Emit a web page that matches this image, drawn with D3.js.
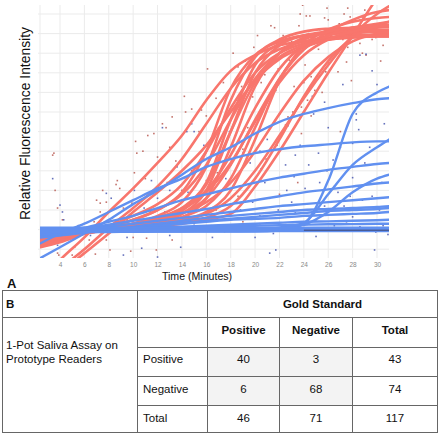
<!DOCTYPE html>
<html><head><meta charset="utf-8">
<script src="https://cdn.jsdelivr.net/npm/d3@7"></script>
<style>
body{margin:0;background:#fff}
svg{display:block}
text{font-family:"Liberation Sans",Arial,Helvetica,sans-serif}
</style>
</head><body>
<svg id="c" width="440" height="433"></svg>
<script>
// ---------------- DATA ----------------
const times = [2.4, 4, 6, 8, 10, 12, 14, 16, 18, 20, 22, 24, 26, 28, 30, 31];
const xTicks = [4, 6, 8, 10, 12, 14, 16, 18, 20, 22, 24, 26, 28, 30];
const yGrid = [0, 1, 2, 3, 4, 5, 6, 7, 8, 9, 10, 11, 12];

// positive samples (red) — fitted curves, values at `times`
const redCurves = [
  [-1.6,-0.55, 0.6, 1.9, 3.1, 4.4, 5.8, 7.6, 9.1, 9.9,10.4,10.6,10.7,10.8,10.85,10.85],
  [-1.8,-1.0, 0.0, 1.1, 2.1, 3.2, 4.6, 6.4, 8.2, 9.5,10.2,10.6,10.8,10.9,10.95,11.0],
  [-1.9,-1.2,-0.2, 0.8, 1.9, 2.9, 4.0, 5.3, 7.0, 8.6, 9.7,10.3,10.7,11.0,11.15,11.2],
  [0.3, 0.5, 0.8, 1.1, 1.5, 2.0, 2.9, 5.0, 8.2, 9.9,10.6,10.9,11.0,11.05,11.1,11.1],
  [0.4, 0.55,0.8, 1.0, 1.3, 1.7, 2.4, 4.2, 7.6, 9.8,10.7,11.1,11.25,11.3,11.35,11.35],
  [0.2, 0.45,0.85,1.1, 1.3, 1.6, 2.1, 3.4, 6.6, 9.4,10.5,10.9,11.0,11.05,11.1,11.1],
  [0.5, 0.65,0.85,1.0, 1.15,1.35,1.8, 3.0, 6.0, 9.0,10.4,10.9,11.1,11.2,11.2,11.2],
  [0.6, 0.7, 0.88,1.0, 1.1, 1.3, 1.6, 2.6, 5.2, 8.3,10.0,10.8,11.1,11.3,11.4,11.4],
  [0.35,0.5, 0.8, 1.05,1.3, 1.6, 2.1, 3.0, 4.8, 7.2, 9.2,10.4,10.9,11.15,11.3,11.35],
  [0.45,0.6, 0.85,1.0, 1.15,1.35,1.65,2.2, 3.6, 6.2, 8.7,10.2,10.9,11.3,11.5,11.6],
  [0.5, 0.65,0.87,1.0, 1.1, 1.25,1.5, 1.9, 3.0, 5.6, 8.6,10.4,11.2,11.6,11.8,11.85],
  [0.55,0.7, 0.88,1.0, 1.1, 1.2, 1.35,1.6, 2.2, 3.6, 5.6, 7.8, 9.6,10.8,11.4,11.6],
  [0.3, 0.5, 0.85,1.1, 1.3, 1.55,1.85,2.4, 3.4, 5.0, 6.9, 8.6, 9.8,10.6,11.0,11.1],
  [0.6, 0.7, 0.85,0.95,1.05,1.15,1.3, 1.5, 1.8, 3.2, 5.0, 7.0, 9.0,10.9,12.8,13.6],
  [0.5, 0.6, 0.8, 0.95,1.1, 1.25,1.45,1.8, 2.6, 4.0, 5.8, 7.7, 9.4,10.9,12.0,12.4],
  [0.4, 0.55,0.8, 1.0, 1.2, 1.45,1.8, 2.6, 4.3, 6.6, 8.7,10.2,11.1,11.7,12.1,12.2],
  [0.2, 0.4, 0.8, 1.15,1.5, 2.0, 2.8, 4.3, 6.6, 8.7,10.0,10.7,11.1,11.3,11.4,11.45],
  [0.1, 0.35,0.8, 1.2, 1.7, 2.3, 3.3, 5.0, 7.2, 9.0,10.0,10.5,10.7,10.8,10.85,10.85],
  [0.55,0.7, 0.9, 1.05,1.2, 1.45,1.95,3.3, 6.0, 8.5, 9.8,10.4,10.7,10.85,10.9,10.95],
  [0.45,0.6, 0.85,1.05,1.25,1.5, 2.0, 2.9, 4.4, 6.5, 8.5, 9.9,10.7,11.1,11.35,11.4]
];

// negative samples (blue)
const blueCurves = [
  [0.9, 0.9, 0.9, 0.9, 0.9, 0.9, 0.9, 0.9, 0.9, 0.9, 0.95,1.3, 3.5, 6.9, 8.0, 8.3],
  [0.95,0.95,0.95,0.95,0.95,0.95,0.95,0.95,0.95,1.0, 1.1, 1.35,2.8, 4.3, 5.2, 5.6],
  [-0.45,0.1,0.8, 1.5, 2.3, 3.0, 3.8, 4.6, 5.2, 5.9, 6.5, 6.9, 7.2, 7.45,7.65,7.7],
  [0.3, 0.8, 1.3, 1.9, 2.5, 3.1, 3.6, 4.2, 4.6, 4.9, 5.1, 5.25,5.35,5.45,5.5, 5.5],
  [0.8, 0.9, 1.1, 1.4, 1.7, 2.1, 2.5, 2.8, 3.1, 3.4, 3.65,3.85,4.05,4.2, 4.35,4.4],
  [0.85,0.9, 1.05,1.25,1.45,1.65,1.85,2.05,2.3, 2.5, 2.7, 2.9, 3.05,3.2, 3.35,3.4],
  [0.85,0.9, 1.0, 1.15,1.3, 1.45,1.6, 1.75,1.9, 2.05,2.2, 2.3, 2.4, 2.5, 2.6, 2.65],
  [0.95,0.95,0.95,0.95,0.95,0.95,0.95,0.96,0.97,1.0, 1.05,1.25,1.9, 2.9, 3.6, 3.8],
  [0.6, 0.7, 0.85,1.0, 1.15,1.3, 1.45,1.6, 1.7, 1.8, 1.9, 2.0, 2.05,2.1, 2.15,2.2],
  [0.7, 0.75,0.85,0.95,1.1, 1.2, 1.35,1.45,1.55,1.65,1.75,1.85,1.95,2.0, 2.05,2.1],
  [0.75,0.8, 0.9, 1.0, 1.1, 1.2, 1.3, 1.4, 1.5, 1.55,1.6, 1.7, 1.75,1.8, 1.85,1.9],
  [0.9, 0.92,0.95,1.0, 1.05,1.1, 1.15,1.2, 1.25,1.3, 1.35,1.4, 1.42,1.45,1.48,1.5],
  [1.0, 1.0, 1.02,1.05,1.08,1.1, 1.12,1.15,1.18,1.2, 1.22,1.25,1.27,1.28,1.3, 1.3],
  [1.05,1.05,1.05,1.05,1.06,1.06,1.07,1.07,1.08,1.08,1.09,1.09,1.1, 1.1, 1.1, 1.1],
  [1.1, 1.1, 1.1, 1.1, 1.1, 1.1, 1.1, 1.09,1.09,1.08,1.08,1.08,1.07,1.07,1.07,1.07],
  [1.0, 1.0, 1.0, 1.0, 1.0, 0.99,0.99,0.99,0.99,0.98,0.98,0.98,0.98,0.98,0.98,0.98],
  [0.85,0.86,0.87,0.88,0.89,0.9, 0.9, 0.91,0.91,0.92,0.92,0.93,0.93,0.93,0.93,0.93]
];

const controlTimes = [24, 31];
const controlValues = [0.97, 0.97];

const redPoints = [
  [16.1,9.2],[14.2,7.8],[14.3,7.0],[14.8,7.15],[13.2,6.75],[15.0,6.7],[12.4,6.4],[12.7,6.2],[11.2,5.8],[11.7,5.9],[15.6,7.1],[16.8,7.7],[16.0,6.8],[15.4,6.0],
  [23.9,12.45],[25.9,12.3],[27.6,12.3],[23.7,12.0],[24.2,11.9],[24.5,11.9],[21.3,11.4],[21.6,11.3],[20.2,10.9],[18.2,10.0],[17.4,8.5],[24.4,11.0],[23.6,11.4],[25.7,11.8],[26.0,11.7],[27.8,11.85],[28.6,11.7],[28.8,11.85],[29.6,11.44],[29.9,10.8],[30.2,11.8],[28.8,10.0],[28.6,10.5],[29.1,9.9],[27.5,9.55],[26.8,9.05],[25.8,9.05],[26.0,9.5],[24.6,8.8],[24.0,8.5],[23.2,8.3],[24.9,8.1],[24.3,7.6],[23.8,7.25],[23.1,7.0],[22.7,6.75],[22.5,6.34],[21.2,7.5],[21.3,7.95],[20.5,8.5],[19.8,7.77],[20.2,6.6],[19.4,6.2],[18.9,8.3],[18.4,7.1],[17.8,5.7],[20.8,8.9],[21.1,9.3],[21.9,9.2],[22.4,9.9],[22.8,9.65],[24.8,10.9],[25.3,11.2],[25.7,10.7],[26.1,11.1],[27.2,10.7],[27.6,10.3],[28.0,11.1],[29.2,11.1],[29.6,10.7],
  [3.4,4.8],[3.5,4.9],[3.6,3.0],[3.8,2.1],[4.2,1.5],[3.9,-0.3],[10.2,5.5],[10.3,4.9],[10.8,5.0],[10.1,3.9],[8.7,3.5],[8.6,3.3],[8.9,3.1],[9.9,2.35],[7.8,2.4],[7.3,2.35],[7.0,2.5],[7.3,1.9],[7.5,3.0],[12.8,3.4],[11.6,2.15],[11.4,1.9],[10.0,0.6],[7.8,0.47],[8.1,-0.04],[6.4,0.47],[5.0,-0.3],[3.8,-0.2],[5.2,0.1],[11.1,0.56],[13.2,0.47],[11.9,-0.04],[12.9,1.1],[15.1,1.6],[16.4,1.2],[17.5,0.9],[19.0,1.4],[20.4,1.3],[22.0,2.8],[23.5,3.4],[25.0,1.5],[26.5,3.2],[27.0,6.0],[13.8,2.3],[14.8,4.0],[16.0,3.5],[17.3,5.0],
  [13.5,4.5],[14.0,3.0],[15.5,2.2],[9.5,1.5],[6.8,1.4],[8.5,0.9],[12.2,1.5],
  [17.0,6.2],[18.6,9.3],[19.2,9.6],[19.9,10.3],[22.3,10.9],[23.0,10.6],[26.9,11.5],[27.3,12.0],[29.0,12.2],[30.5,10.4],[30.3,9.6],[25.2,10.2],[24.1,9.4],[21.7,8.1],[19.0,5.1],[18.0,4.3],[16.9,3.9],[15.8,4.6],[13.0,5.2],[12.0,4.7],[11.0,3.6],[9.2,2.1],[8.3,1.6],[6.2,1.1],[14.5,1.1],[16.8,2.0],[18.6,2.7],[20.9,4.6],[21.8,5.3],[23.8,5.9],[24.6,6.8],[25.5,8.0],[27.9,8.6],[6.9,-0.25],[9.8,-0.1]
];

const bluePoints = [
  [3.4,3.6],[4.0,2.25],[4.2,1.9],[4.3,1.5],[5.5,1.2],[3.8,0.2],[5.8,-0.1],[7.8,2.85],[8.2,2.6],[9.2,-0.3],[10.7,0.05],[12.0,-0.4],[13.9,0.1],[10.9,2.1],[12.0,2.6],[13.0,3.0],[10.1,3.0],[11.5,3.5],[12.4,6.2],[14.8,6.4],[14.4,6.0],[15.0,6.0],[28.6,9.9],[29.1,9.95],[29.6,9.1],[27.2,8.4],[25.7,7.5],[24.7,7.8],[24.8,6.9],[28.3,6.9],[28.3,6.6],[28.5,6.1],[30.0,8.4],[22.7,6.3],[18.5,7.6],[17.9,6.0],
  [23.7,5.3],[23.3,4.8],[25.2,4.9],[24.4,4.3],[26.4,4.55],[28.0,5.4],[29.4,5.2],[25.9,4.0],[22.5,4.3],[23.2,3.7],[20.8,3.4],[20.5,4.1],[20.4,5.0],[19.0,4.9],[19.6,4.4],[17.6,3.6],[18.1,3.1],[21.2,2.6],[22.6,3.0],[24.1,3.1],[26.8,2.9],[28.0,3.65],[28.8,2.5],[29.6,2.7],[30.4,3.4],[27.3,2.2],[25.7,2.2],[24.3,1.7],[23.3,1.85],[21.9,2.0],[20.4,1.7],[18.8,2.0],[17.95,1.7],[19.6,1.0],[21.5,0.8],[24.0,1.1],[26.5,1.2],[28.6,1.14],[29.9,0.88],[21.2,-0.2],[21.7,-0.04],[29.8,-0.04],[26.15,2.0],[28.0,1.65],
  [6.5,0.7],[8.0,1.2],[9.5,0.6],[11.0,1.3],[13.0,0.7],[15.0,1.3],[16.5,0.6],[18.0,1.1],[20.0,0.6],[22.5,1.25],[25.0,0.65],[27.5,1.4],[30.5,1.2],[30.9,0.75],
  [16.0,2.4],[14.5,2.9],[13.6,4.2],[15.8,5.3],[17.0,4.6],[19.2,3.4],[21.0,5.6],[22.0,6.9],[26.0,6.2],[27.0,5.2],[29.0,4.4],[30.6,6.4],[23.0,2.4],[25.3,3.4],[27.8,2.7],[30.2,2.0],[19.8,2.4],[16.2,1.6],[12.6,1.9],[9.8,1.7]
];

// table B
const tableTitle = "B";
const goldLabel = "Gold Standard";
const assayLabel = ["1-Pot Saliva Assay on", "Prototype Readers"];
const colHeaders = ["Positive", "Negative", "Total"];
const rowLabels = ["Positive", "Negative", "Total"];
const goldPositive = [40, 6, 46];
const goldNegative = [3, 68, 71];
const rowTotals = [43, 74, 117];

// ---------------- CHART ----------------
const svg = d3.select("#c");
const P = {l: 40, r: 389, t: 5, b: 258};
const x = d3.scaleLinear().domain([4, 30]).range([60, 377]);
const y = d3.scaleLinear().domain([0, 12]).range([249.2, 14]);

svg.append("defs").append("clipPath").attr("id", "clip")
  .append("rect").attr("x", P.l).attr("y", P.t).attr("width", P.r - P.l).attr("height", P.b - P.t);

const grid = svg.append("g");
grid.selectAll("line.h").data(yGrid).join("line")
  .attr("x1", P.l - 2).attr("x2", P.r).attr("y1", d => y(d)).attr("y2", d => y(d))
  .attr("stroke", "#ebebeb").attr("stroke-width", 1);
grid.selectAll("line.v").data(xTicks).join("line")
  .attr("y1", P.t).attr("y2", P.b).attr("x1", d => x(d)).attr("x2", d => x(d))
  .attr("stroke", "#ebebeb").attr("stroke-width", 1);
grid.append("line").attr("x1", P.l).attr("x2", P.l).attr("y1", P.t).attr("y2", P.b)
  .attr("stroke", "#ebebeb").attr("stroke-width", 1);

const plot = svg.append("g").attr("clip-path", "url(#clip)");

plot.append("g").selectAll("rect").data(redPoints).join("rect")
  .attr("x", d => x(d[0]) - 0.8).attr("y", d => y(d[1]) - 0.8)
  .attr("width", 1.6).attr("height", 1.6).attr("fill", "#b85a52").attr("opacity", 0.85);
plot.append("g").selectAll("rect").data(bluePoints).join("rect")
  .attr("x", d => x(d[0]) - 0.8).attr("y", d => y(d[1]) - 0.8)
  .attr("width", 1.6).attr("height", 1.6).attr("fill", "#4a58b0").attr("opacity", 0.85);

const line = d3.line().x(d => x(d[0])).y(d => y(d[1])).curve(d3.curveMonotoneX);
const toPts = vals => vals.map((v, i) => [times[i], v]);

plot.append("g").selectAll("path").data(redCurves).join("path")
  .attr("d", d => line(toPts(d))).attr("fill", "none")
  .attr("stroke", "#F8766D").attr("stroke-width", 2.6).attr("stroke-linecap", "round");
plot.append("g").selectAll("path").data(blueCurves).join("path")
  .attr("d", d => line(toPts(d))).attr("fill", "none")
  .attr("stroke", "#6190F0").attr("stroke-width", 2.4).attr("stroke-linecap", "round");
plot.append("path").attr("d", line(controlTimes.map((t, i) => [t, controlValues[i]])))
  .attr("fill", "none").attr("stroke", "#3d4470").attr("stroke-width", 1);

// x axis labels
const xAxis = svg.append("g").attr("transform", `translate(0,${P.b})`)
  .call(d3.axisBottom(x).tickValues(xTicks).tickSize(0).tickPadding(4));
xAxis.select(".domain").remove();
xAxis.selectAll("text").attr("fill", "#8a8a8a").style("font-size", "6.5px")
  .style("font-family", '"Liberation Sans",Arial,sans-serif');

svg.append("text").attr("x", 197).attr("y", 280).attr("text-anchor", "middle")
  .style("font-size", "10.6px").attr("fill", "#111").text("Time (Minutes)");
svg.append("text").attr("transform", "translate(30,123.5) rotate(-90)").attr("text-anchor", "middle")
  .style("font-size", "13.9px").attr("fill", "#111").text("Relative Fluorescence Intensity");
svg.append("text").attr("x", 7).attr("y", 288).style("font-size", "13px").style("font-weight", "bold")
  .attr("fill", "#111").text("A");

// ---------------- TABLE ----------------
const tb = svg.append("g");
const colX = [2.5, 137.5, 207.5, 279.5, 352.5, 437.5];
const rowY = [290.5, 317.5, 347.5, 376.5, 405.5, 432.5];
const bc = "#666";

tb.append("rect").attr("x", colX[2]).attr("y", rowY[2]).attr("width", colX[4] - colX[2])
  .attr("height", rowY[4] - rowY[2]).attr("fill", "#f3f3f3");

tb.append("rect").attr("x", colX[0]).attr("y", rowY[0]).attr("width", colX[5] - colX[0])
  .attr("height", rowY[5] - rowY[0]).attr("fill", "none").attr("stroke", bc);
[[colX[1], rowY[0], rowY[5]], [colX[2], rowY[0], rowY[5]], [colX[3], rowY[1], rowY[5]], [colX[4], rowY[1], rowY[5]]]
  .forEach(([xx, y1, y2]) => tb.append("line").attr("x1", xx).attr("x2", xx).attr("y1", y1).attr("y2", y2).attr("stroke", bc));
[[rowY[1], colX[0]], [rowY[2], colX[1]], [rowY[3], colX[1]], [rowY[4], colX[1]]]
  .forEach(([yy, x1]) => tb.append("line").attr("x1", x1).attr("x2", colX[5]).attr("y1", yy).attr("y2", yy).attr("stroke", bc));

const txt = (s, xx, yy, anchor, bold) => tb.append("text").attr("x", xx).attr("y", yy)
  .attr("text-anchor", anchor).attr("dominant-baseline", "central")
  .style("font-size", "11.5px").style("font-weight", bold ? "bold" : "normal").attr("fill", "#111").text(s);

txt(tableTitle, 6, 303.5, "start", true);
txt(goldLabel, (colX[2] + colX[5]) / 2, 303.5, "middle", true);
txt(assayLabel[0], 6, 345, "start", false);
txt(assayLabel[1], 6, 359, "start", false);
colHeaders.forEach((h, i) => txt(h, (colX[2 + i] + colX[3 + i]) / 2, 330, "middle", true));
const rowCenters = [358.5, 388.5, 418];
rowLabels.forEach((r, i) => {
  txt(r, 143, rowCenters[i], "start", false);
  txt(String(goldPositive[i]), (colX[2] + colX[3]) / 2, rowCenters[i], "middle", false);
  txt(String(goldNegative[i]), (colX[3] + colX[4]) / 2, rowCenters[i], "middle", false);
  txt(String(rowTotals[i]), (colX[4] + colX[5]) / 2, rowCenters[i], "middle", false);
});
</script>
</body></html>
